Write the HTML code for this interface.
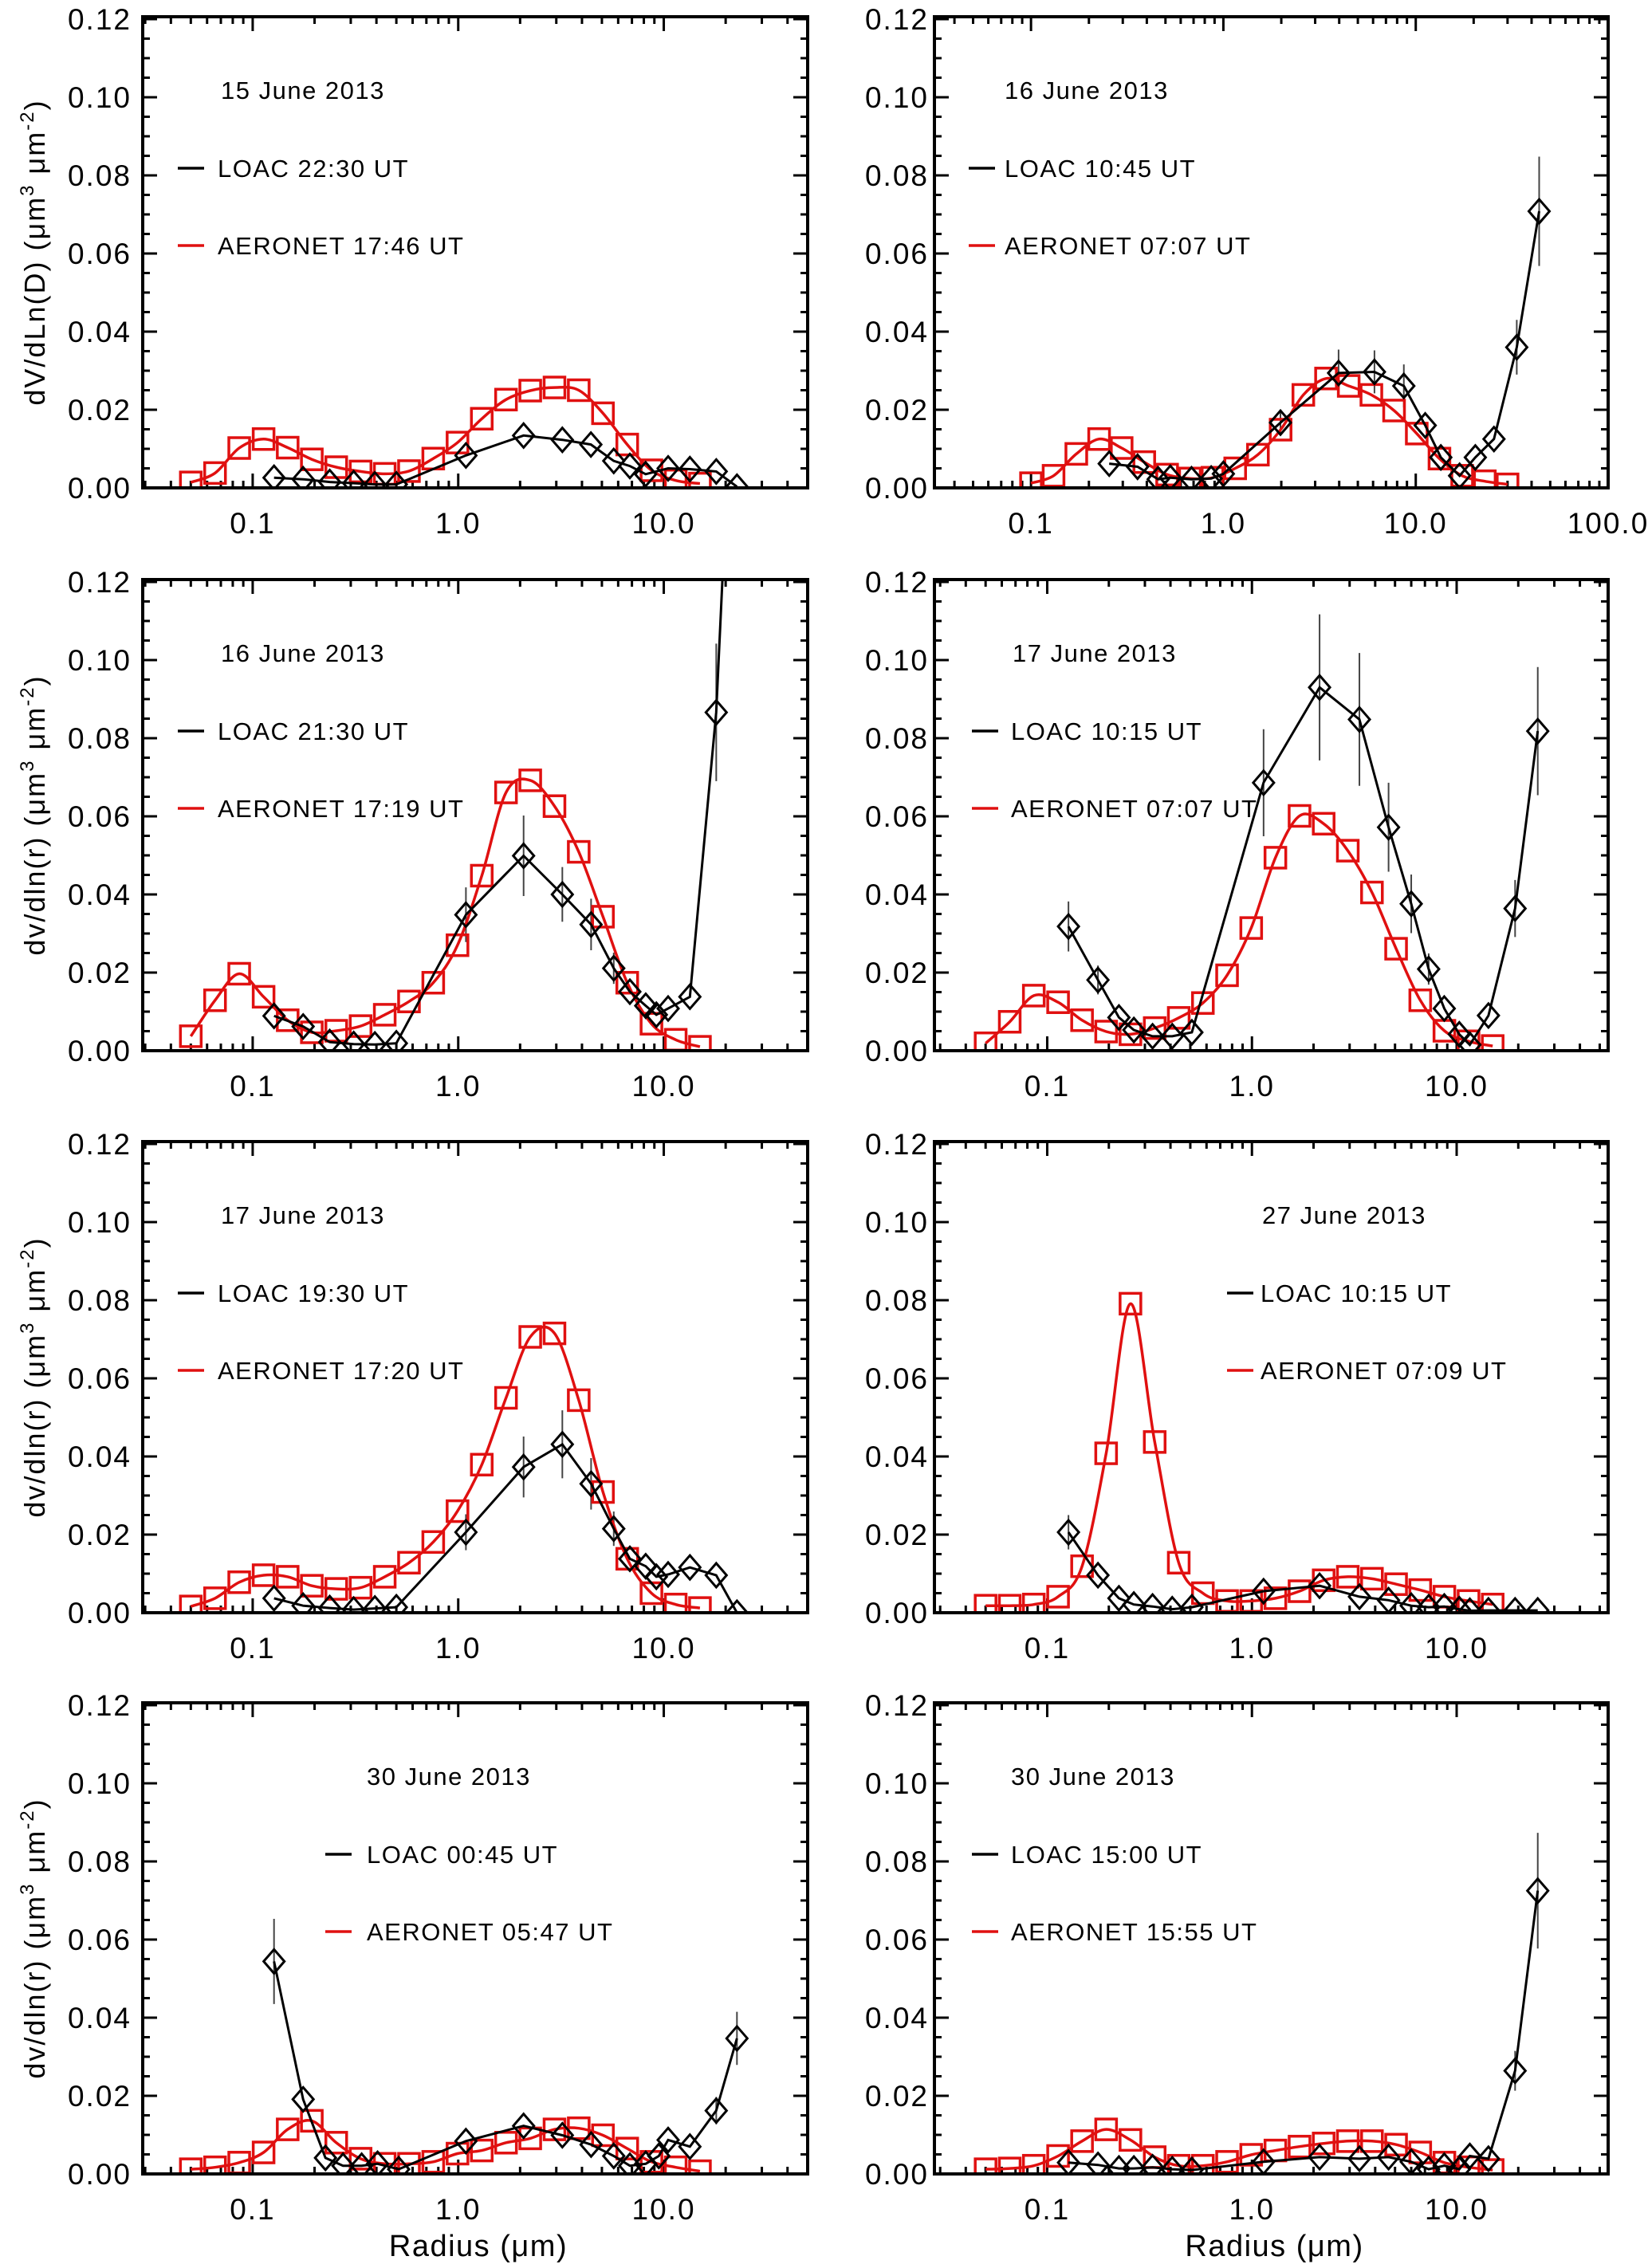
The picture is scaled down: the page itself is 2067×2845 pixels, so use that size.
<!DOCTYPE html>
<html><head><meta charset="utf-8"><style>
html,body{margin:0;padding:0;background:#fff;}
svg{display:block;font-family:"Liberation Sans",sans-serif;}
</style></head><body>
<svg id="fig" xmlns="http://www.w3.org/2000/svg" width="2067" height="2845" viewBox="0 0 2067 2845"></svg>
<script>
// ---------- data ----------
const AERO_R = [0.05,0.0656,0.086,0.113,0.148,0.194,0.255,0.335,0.439,0.576,0.756,0.992,1.302,1.708,2.241,2.94,3.857,5.061,6.641,8.713,11.432,15.0];
const AERO_D = [0.1,0.131,0.172,0.226,0.296,0.388,0.51,0.67,0.878,1.152,1.512,1.984,2.604,3.416,4.482,5.88,7.714,10.12,13.28,17.43,22.86,30.0];
const LOAC_RA = [0.127,0.176,0.237,0.31,0.393,0.5,1.09,2.08,3.21,4.42,5.71,6.84,8.16,10.5,13.4,18,22.7];
const LOAC_RB = [0.127,0.176,0.237,0.31,0.393,0.5,1.09,2.08,3.21,4.43,5.71,6.84,8.17,9.2,10.5,13.4,18.0,22.7];
const LOAC_RC = [0.127,0.177,0.224,0.265,0.327,0.408,0.509,1.14,2.14,3.35,4.65,6.0,7.3,8.7,10.3,11.6,14.3,19.3,24.9];
const LOAC_RD = [0.127,0.176,0.226,0.275,0.339,0.405,0.513,1.09,2.08,3.21,4.43,5.71,6.84,8.17,9.46,10.5,13.4,18.0,22.7];
const LOAC_D2 = [0.255,0.358,0.458,0.53,0.683,0.864,1.0,1.98,3.97,6.1,8.67,11.2,13.5,16.9,20.4,25.5,33.5,43.8];

const p1Aero = [0.0014,0.0038,0.0102,0.0125,0.0103,0.0073,0.0053,0.0042,0.0036,0.0043,0.0075,0.0116,0.0177,0.0226,0.0249,0.0257,0.0250,0.0191,0.0111,0.0045,0.0019,0.0011];
const p1Loac = [0.0026,0.0022,0.0015,0.0012,0.0009,0.0009,0.0083,0.0134,0.0123,0.0111,0.0069,0.0056,0.0035,0.005,0.0048,0.0042,0.0003];
const p1Err  = [0,0,0,0,0,0,0,0,0,0,0,0,0,0,0,0,0];

const p2Aero = [0.0012,0.0031,0.0087,0.0125,0.0102,0.0066,0.0034,0.0024,0.0026,0.0050,0.0085,0.0149,0.0238,0.0280,0.0261,0.0238,0.0198,0.0139,0.0075,0.0031,0.0017,0.0009];
const p2Loac = [0.0062,0.0054,0.0022,0.0026,0.0022,0.0024,0.0036,0.0167,0.0294,0.0297,0.0261,0.0160,0.0078,0.0031,0.0078,0.0125,0.0360,0.0708];
const p2Err  = [0,0,0,0,0,0,0,0.003,0.006,0.0055,0.0055,0,0,0,0,0,0.007,0.014];

const p3Aero = [0.0037,0.0129,0.0197,0.0138,0.0078,0.0047,0.0051,0.0063,0.0092,0.0126,0.0174,0.0270,0.0448,0.0661,0.0692,0.0626,0.0509,0.0343,0.0174,0.0069,0.0028,0.0010];
const p3Loac = [0.0089,0.0062,0.0022,0.0017,0.0016,0.0019,0.0348,0.0499,0.0400,0.0323,0.0211,0.0151,0.0115,0.0092,0.0108,0.0138,0.0866,0.2];
const p3Err  = [0,0,0,0,0,0,0.007,0.0103,0.007,0.0066,0.004,0,0,0,0,0,0.0176,0];

const p4Aero = [0.0019,0.0074,0.0141,0.0124,0.0078,0.0049,0.0042,0.0058,0.0084,0.0122,0.0193,0.0314,0.0494,0.0601,0.0581,0.0512,0.0405,0.0261,0.0129,0.0051,0.0024,0.0012];
const p4Loac = [0.0318,0.0181,0.0085,0.0053,0.0037,0.0037,0.0047,0.0686,0.0930,0.0848,0.0572,0.0376,0.0209,0.0108,0.0042,0.0015,0.0090,0.0364,0.0818];
const p4Err  = [0.0064,0.0037,0,0,0,0,0,0.0137,0.0187,0.017,0.0114,0.0075,0.004,0,0,0,0,0.0073,0.0164];

const p5Aero = [0.0016,0.0037,0.0078,0.0096,0.0092,0.0069,0.0061,0.0064,0.0092,0.0128,0.0181,0.0260,0.0379,0.0550,0.0706,0.0715,0.0544,0.0309,0.0138,0.0050,0.0021,0.0012];
const p5Loac = [0.0037,0.0018,0.0012,0.0008,0.0011,0.0014,0.0206,0.0373,0.0431,0.0330,0.0215,0.0138,0.0119,0.0092,0.0098,0.0116,0.0096,0.0];
const p5Err  = [0,0,0,0,0,0,0.0046,0.0078,0.0087,0.0066,0.0044,0,0,0,0,0,0,0];

const p6Aero = [0.0018,0.0018,0.0021,0.0041,0.0119,0.0408,0.0791,0.0437,0.0128,0.0050,0.0030,0.0030,0.0037,0.0055,0.0083,0.0092,0.0087,0.0073,0.0058,0.0041,0.0030,0.0021];
const p6Loac = [0.0206,0.0096,0.0037,0.0021,0.0016,0.0009,0.0014,0.0055,0.0069,0.0041,0.0032,0.0018,0.0014,0.0016,0.0009,0.0005,0.0006,0.0006,0.0006];
const p6Err  = [0.0044,0,0,0,0,0,0,0,0,0,0,0,0,0,0,0,0,0,0];

const p7Aero = [0.0012,0.0017,0.0029,0.0055,0.0114,0.0136,0.0080,0.0039,0.0026,0.0026,0.0031,0.0052,0.0060,0.0080,0.0091,0.0114,0.0117,0.0099,0.0065,0.0031,0.0017,0.0007];
const p7Loac = [0.0544,0.0191,0.0041,0.0021,0.0021,0.0026,0.0012,0.0084,0.0123,0.0099,0.0075,0.0046,0.0021,0.0026,0.0046,0.0087,0.0070,0.0162,0.0347];
const p7Err  = [0.0109,0,0,0,0,0,0,0,0,0,0,0,0,0,0,0,0,0.0035,0.0068];

const p8Aero = [0.0012,0.0014,0.0021,0.0046,0.0084,0.0114,0.0087,0.0043,0.0021,0.0021,0.0031,0.0049,0.0060,0.0070,0.0078,0.0084,0.0084,0.0075,0.0055,0.0029,0.0017,0.0010];
const p8Loac = [0.0029,0.0023,0.0014,0.0014,0.0017,0.0012,0.0010,0.0031,0.0043,0.0039,0.0043,0.0031,0.0012,0.0021,0.0012,0.0046,0.0039,0.0264,0.0725];
const p8Err  = [0,0,0,0,0,0,0,0,0,0,0,0,0,0,0,0,0,0.0051,0.0148];

const yTicks = [0, 0.02, 0.04, 0.06, 0.08, 0.10, 0.12];
const yTickLabels = ["0.00","0.02","0.04","0.06","0.08","0.10","0.12"];
const xTicksStd = [0.1, 1, 10];
const xTickLabelsStd = ["0.1","1.0","10.0"];
const xTicksWide = [0.1, 1, 10, 100];
const xTickLabelsWide = ["0.1","1.0","10.0","100.0"];

// ---------- layout ----------
const NS = "http://www.w3.org/2000/svg";
const svg = document.getElementById('fig');
const H = 591, YMAX = 0.1206;
const panels = [
 {id:'p1', x0:179, x1:1013, top:21, lmin:-1.535, lmax:1.700, ar:AERO_R, av:p1Aero, lr:LOAC_RA, lv:p1Loac, le:p1Err, date:'15 June 2013', loac:'LOAC 22:30 UT', aer:'AERONET 17:46 UT', dx:277, lx:223, tx:273, ytitle:'dV/dLn(D)', xt:xTicksStd, xl:xTickLabelsStd, left:true},
 {id:'p2', x0:1172, x1:2017, top:21, lmin:-1.502, lmax:2.0, ar:AERO_D, av:p2Aero, lr:LOAC_D2, lv:p2Loac, le:p2Err, date:'16 June 2013', loac:'LOAC 10:45 UT', aer:'AERONET 07:07 UT', dx:1260, lx:1215, tx:1260, xt:xTicksWide, xl:xTickLabelsWide},
 {id:'p3', x0:179, x1:1013, top:727, lmin:-1.535, lmax:1.700, ar:AERO_R, av:p3Aero, lr:LOAC_RB, lv:p3Loac, le:p3Err, date:'16 June 2013', loac:'LOAC 21:30 UT', aer:'AERONET 17:19 UT', dx:277, lx:223, tx:273, ytitle:'dv/dln(r)', xt:xTicksStd, xl:xTickLabelsStd, left:true},
 {id:'p4', x0:1172, x1:2017, top:727, lmin:-1.551, lmax:1.740, ar:AERO_R, av:p4Aero, lr:LOAC_RC, lv:p4Loac, le:p4Err, date:'17 June 2013', loac:'LOAC 10:15 UT', aer:'AERONET 07:07 UT', dx:1270, lx:1219, tx:1268, xt:xTicksStd, xl:xTickLabelsStd},
 {id:'p5', x0:179, x1:1013, top:1432, lmin:-1.535, lmax:1.700, ar:AERO_R, av:p5Aero, lr:LOAC_RB, lv:p5Loac, le:p5Err, date:'17 June 2013', loac:'LOAC 19:30 UT', aer:'AERONET 17:20 UT', dx:277, lx:223, tx:273, ytitle:'dv/dln(r)', xt:xTicksStd, xl:xTickLabelsStd, left:true},
 {id:'p6', x0:1172, x1:2017, top:1432, lmin:-1.551, lmax:1.740, ar:AERO_R, av:p6Aero, lr:LOAC_RC, lv:p6Loac, le:p6Err, date:'27 June 2013', loac:'LOAC 10:15 UT', aer:'AERONET 07:09 UT', dx:1583, lx:1539, tx:1581, xt:xTicksStd, xl:xTickLabelsStd},
 {id:'p7', x0:179, x1:1013, top:2136, lmin:-1.535, lmax:1.700, ar:AERO_R, av:p7Aero, lr:LOAC_RD, lv:p7Loac, le:p7Err, date:'30 June 2013', loac:'LOAC 00:45 UT', aer:'AERONET 05:47 UT', dx:460, lx:408, tx:460, ytitle:'dv/dln(r)', xt:xTicksStd, xl:xTickLabelsStd, left:true, bottom:true},
 {id:'p8', x0:1172, x1:2017, top:2136, lmin:-1.551, lmax:1.740, ar:AERO_R, av:p8Aero, lr:LOAC_RC, lv:p8Loac, le:p8Err, date:'30 June 2013', loac:'LOAC 15:00 UT', aer:'AERONET 15:55 UT', dx:1268, lx:1219, tx:1268, xt:xTicksStd, xl:xTickLabelsStd, bottom:true}
];

function mk(tag, attrs, parent){
  const e = document.createElementNS(NS, tag);
  for (const k in attrs) e.setAttribute(k, attrs[k]);
  if (parent) parent.appendChild(e);
  return e;
}

panels.forEach(function(p){
  const bot = p.top + H;
  const xs = function(r){ return p.x0 + (Math.log10(r) - p.lmin) / (p.lmax - p.lmin) * (p.x1 - p.x0); };
  const ys = function(v){ return bot - v / YMAX * H; };
  const g = mk('g', {}, svg);
  
  

  const cp = mk('clipPath', {id:'clip-' + p.id}, g);
  mk('rect', {x:p.x0, y:p.top, width:p.x1 - p.x0, height:H}, cp);

  // y ticks
  for (let k = 0; k <= 24; k++) {
    const v = k * 0.005; const y = ys(v);
    if (y < p.top - 1) continue;
    const L = (k % 4 === 0) ? 18 : 9;
    mk('line', {x1:p.x0, x2:p.x0 + L, y1:y, y2:y, stroke:'#000', 'stroke-width':3}, g);
    mk('line', {x1:p.x1, x2:p.x1 - L, y1:y, y2:y, stroke:'#000', 'stroke-width':3}, g);
  }
  yTicks.forEach(function(v, i){
    const t = mk('text', {x:(p.left ? 165 : 1165), y:ys(v) + 13, 'text-anchor':'end', 'font-size':37, 'letter-spacing':2, fill:'#000'}, g);
    
    
    t.textContent = yTickLabels[i];
  });
  // x ticks
  for (let d = -2; d <= 2; d++) {
    for (let m = 1; m <= 9; m++) {
      const r = m * Math.pow(10, d); const lg = Math.log10(r);
      if (lg < p.lmin || lg > p.lmax) continue;
      const x = xs(r); const L = (m === 1) ? 18 : 9;
      mk('line', {x1:x, x2:x, y1:bot, y2:bot - L, stroke:'#000', 'stroke-width':3}, g);
      mk('line', {x1:x, x2:x, y1:p.top, y2:p.top + L, stroke:'#000', 'stroke-width':3}, g);
    }
  }
  p.xt.forEach(function(v, i){
    const t = mk('text', {x:xs(v), y:bot + 57, 'text-anchor':'middle', 'font-size':37, 'letter-spacing':2, fill:'#000'}, g);
    
    
    t.textContent = p.xl[i];
  });

  const dg = mk('g', {'clip-path':'url(#clip-' + p.id + ')'}, g);
  // error bars
  p.lr.forEach(function(r, i){
    if (!p.le[i]) return;
    const eb = mk('line', {x1:xs(r), x2:xs(r), y1:ys(p.lv[i] - p.le[i]), y2:ys(p.lv[i] + p.le[i]), stroke:'#444', 'stroke-width':2}, dg);
    
    
  });
  // AERONET smooth curve
  const pts = p.ar.map(function(r, i){ return [xs(r), ys(p.av[i])]; });
  let d = 'M' + pts[0][0].toFixed(1) + ',' + pts[0][1].toFixed(1);
  for (let i = 0; i < pts.length - 1; i++) {
    const p0 = pts[Math.max(0, i - 1)], p1 = pts[i], p2 = pts[i + 1], p3 = pts[Math.min(pts.length - 1, i + 2)];
    const c1x = p1[0] + (p2[0] - p0[0]) / 6, c1y = p1[1] + (p2[1] - p0[1]) / 6;
    const c2x = p2[0] - (p3[0] - p1[0]) / 6, c2y = p2[1] - (p3[1] - p1[1]) / 6;
    d += ' C' + c1x.toFixed(1) + ',' + c1y.toFixed(1) + ' ' + c2x.toFixed(1) + ',' + c2y.toFixed(1) + ' ' + p2[0].toFixed(1) + ',' + p2[1].toFixed(1);
  }
  const aline = mk('path', {d:d, fill:'none', stroke:'#e01010', 'stroke-width':3.5}, dg);
  
  
  pts.forEach(function(q){
    const s = mk('rect', {x:q[0] - 13, y:q[1] - 13, width:26, height:26, fill:'none', stroke:'#e01010', 'stroke-width':3.5}, dg);
    
    
  });
  // LOAC line + diamonds
  const lp = p.lr.map(function(r, i){ return [xs(r), ys(p.lv[i])]; });
  const ll = mk('polyline', {points:lp.map(function(q){ return q[0].toFixed(1) + ',' + q[1].toFixed(1); }).join(' '), fill:'none', stroke:'#000', 'stroke-width':3}, dg);
  
  
  lp.forEach(function(q){
    const dm = mk('polygon', {points:(q[0]) + ',' + (q[1] - 15) + ' ' + (q[0] + 13) + ',' + q[1] + ' ' + q[0] + ',' + (q[1] + 15) + ' ' + (q[0] - 13) + ',' + q[1], fill:'none', stroke:'#000', 'stroke-width':3}, dg);
    
    
  });

  // frame
  const fr = mk('rect', {x:p.x0, y:p.top, width:p.x1 - p.x0, height:H, fill:'none', stroke:'#000', 'stroke-width':4}, g);
  
  

  // annotations
  const dt = mk('text', {x:p.dx, y:p.top + 103, 'font-size':31, 'letter-spacing':1.5, fill:'#000'}, g);
  
  
  dt.textContent = p.date;
  const l1 = mk('line', {x1:p.lx, x2:p.lx + 33, y1:p.top + 190, y2:p.top + 190, stroke:'#000', 'stroke-width':3.5}, g);
  
  
  const t1 = mk('text', {x:p.tx, y:p.top + 201, 'font-size':31, 'letter-spacing':1.5, fill:'#000'}, g);
  
  
  t1.textContent = p.loac;
  const l2 = mk('line', {x1:p.lx, x2:p.lx + 33, y1:p.top + 287, y2:p.top + 287, stroke:'#e01010', 'stroke-width':3.5}, g);
  
  
  const t2 = mk('text', {x:p.tx, y:p.top + 298, 'font-size':31, 'letter-spacing':1.5, fill:'#000'}, g);
  
  
  t2.textContent = p.aer;

  if (p.left) {
    const cy = p.top + H / 2;
    const yt = mk('text', {x:0, y:0, transform:'translate(56,' + cy + ') rotate(-90)', 'text-anchor':'middle', 'font-size':36, 'letter-spacing':2, fill:'#000'}, g);
    
    
    yt.appendChild(document.createTextNode(p.ytitle + ' (\u03bcm'));
    const s1 = mk('tspan', {'font-size':24, dy:-14}, yt); s1.textContent = '3';
    const s2 = mk('tspan', {dy:14}, yt); s2.textContent = '  \u03bcm';
    const s3 = mk('tspan', {'font-size':24, dy:-14}, yt); s3.textContent = '-2';
    const s4 = mk('tspan', {dy:14}, yt); s4.textContent = ')';
  }
  if (p.bottom) {
    const xt = mk('text', {x:(p.x0 + p.x1) / 2 + 4, y:2830, 'text-anchor':'middle', 'font-size':38, 'letter-spacing':1.5, fill:'#000'}, g);
    
    
    xt.textContent = 'Radius (\u03bcm)';
  }
});
</script>
</body></html>
